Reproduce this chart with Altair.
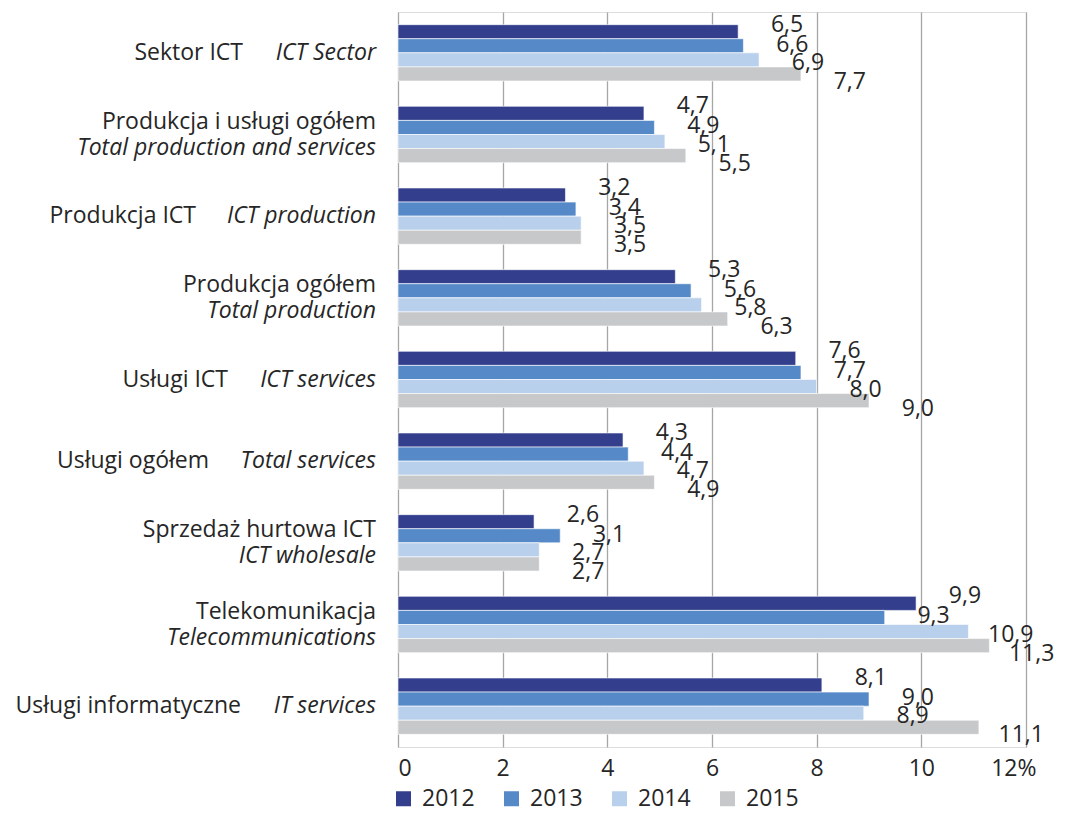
import altair as alt
import pandas as pd

# ---- data ----
categories_pl = [
    "Sektor ICT",
    "Produkcja i usługi ogółem",
    "Produkcja ICT",
    "Produkcja ogółem",
    "Usługi ICT",
    "Usługi ogółem",
    "Sprzedaż hurtowa ICT",
    "Telekomunikacja",
    "Usługi informatyczne",
]
categories_en = [
    "ICT Sector",
    "Total production and services",
    "ICT production",
    "Total production",
    "ICT services",
    "Total services",
    "ICT wholesale",
    "Telecommunications",
    "IT services",
]
two_line = [False, True, False, True, False, False, True, True, False]
years = ["2012", "2013", "2014", "2015"]
v2012 = [6.5, 4.7, 3.2, 5.3, 7.6, 4.3, 2.6, 9.9, 8.1]
v2013 = [6.6, 4.9, 3.4, 5.6, 7.7, 4.4, 3.1, 9.3, 9.0]
v2014 = [6.9, 5.1, 3.5, 5.8, 8.0, 4.7, 2.7, 10.9, 8.9]
v2015 = [7.7, 5.5, 3.5, 6.3, 9.0, 4.9, 2.7, 11.3, 11.1]
x_ticks = [0, 2, 4, 6, 8, 10, 12]

# ---- layout / style ----
colors = ["#333F8D", "#5589C8", "#B9D0EC", "#C7C8CA"]
text_color = "#262626"
FONT = "Open Sans"
FS = 23
# right edge (px, relative to plot left) of Polish label on single-line rows
pl_right = {"Sektor ICT": -155, "Produkcja ICT": -202, "Usługi ICT": -170,
            "Usługi ogółem": -189, "Usługi informatyczne": -157}
label_dy = {"2012": -7, "2013": -1, "2014": 3, "2015": 8}

series = {"2012": v2012, "2013": v2013, "2014": v2014, "2015": v2015}
rows = []
for y in years:
    for c, v in zip(categories_pl, series[y]):
        rows.append({"cat": c, "year": y, "value": v,
                     "label": f"{v:.1f}".replace(".", ",")})
df = pd.DataFrame(rows)

lab_rows = []
for pl, en, tl in zip(categories_pl, categories_en, two_line):
    lab_rows.append({"cat": pl, "pl": pl, "en": en, "two": tl,
                     "px": pl_right.get(pl, -22)})
dfl = pd.DataFrame(lab_rows)

y_scale = alt.Scale(domain=categories_pl, paddingInner=0.31, paddingOuter=0.155)
y_enc = alt.Y("cat:N", sort=categories_pl, axis=None, scale=y_scale)
yoff = alt.YOffset("year:N", sort=years,
                   scale=alt.Scale(domain=years, paddingInner=0, paddingOuter=0))
x_scale = alt.Scale(domain=[0, 12], nice=False)

bars = alt.Chart(df).mark_bar(stroke="white", strokeWidth=0.6).encode(
    x=alt.X("value:Q", scale=x_scale,
            axis=alt.Axis(values=x_ticks, title=None, domain=False, ticks=False,
                          grid=True, gridColor="#A6A6A6", gridWidth=1.3,
                          labelFontSize=FS, labelFont=FONT, labelColor=text_color,
                          labelPadding=10,
                          labelOffset={"condition": {"test": "datum.value == 12",
                                                     "value": 10},
                                       "value": 0},
                          labelExpr="datum.value == 12 ? '12%' : datum.label")),
    y=y_enc,
    yOffset=yoff,
    color=alt.Color("year:N", sort=years,
                    scale=alt.Scale(domain=years, range=colors),
                    legend=alt.Legend(title=None, orient="none", direction="horizontal",
                                      legendX=-6, legendY=775,
                                      symbolType="square", symbolSize=225,
                                      symbolStrokeWidth=0, labelFontSize=FS,
                                      labelFont=FONT, labelColor=text_color,
                                      labelOffset=7, columnPadding=25, padding=0)),
)

layers = [bars]
for y in years:
    t = alt.Chart(df).transform_filter(alt.datum.year == y).mark_text(
        align="right", baseline="middle", dx=65, dy=label_dy[y],
        fontSize=FS, font=FONT, color=text_color
    ).encode(
        x=alt.X("value:Q", scale=x_scale),
        y=y_enc,
        yOffset=yoff,
        text="label:N",
    )
    layers.append(t)

single = alt.Chart(dfl).transform_filter("!datum.two")
double = alt.Chart(dfl).transform_filter("datum.two")

pl_single = single.mark_text(align="right", baseline="middle", fontSize=FS,
                             font=FONT, color=text_color).encode(
    x=alt.X("px:Q", scale=None), y=y_enc, text="pl:N")
en_single = single.mark_text(align="right", baseline="middle", fontSize=FS,
                             font=FONT, fontStyle="italic", color=text_color).encode(
    x=alt.value(-22), y=y_enc, text="en:N")
pl_double = double.mark_text(align="right", baseline="middle", fontSize=FS, dy=-13,
                             font=FONT, color=text_color).encode(
    x=alt.value(-22), y=y_enc, text="pl:N")
en_double = double.mark_text(align="right", baseline="middle", fontSize=FS, dy=13,
                             font=FONT, fontStyle="italic", color=text_color).encode(
    x=alt.value(-22), y=y_enc, text="en:N")
layers += [pl_single, en_single, pl_double, en_double]

chart = alt.layer(*layers).properties(
    width=628, height=735,
    autosize=alt.AutoSizeParams(type="none"),
    padding={"left": 390, "top": 4, "right": 37, "bottom": 62},
).configure_view(stroke=None).configure(font=FONT)

chart.save("out.html", embed_options={"renderer": "svg", "actions": False})
